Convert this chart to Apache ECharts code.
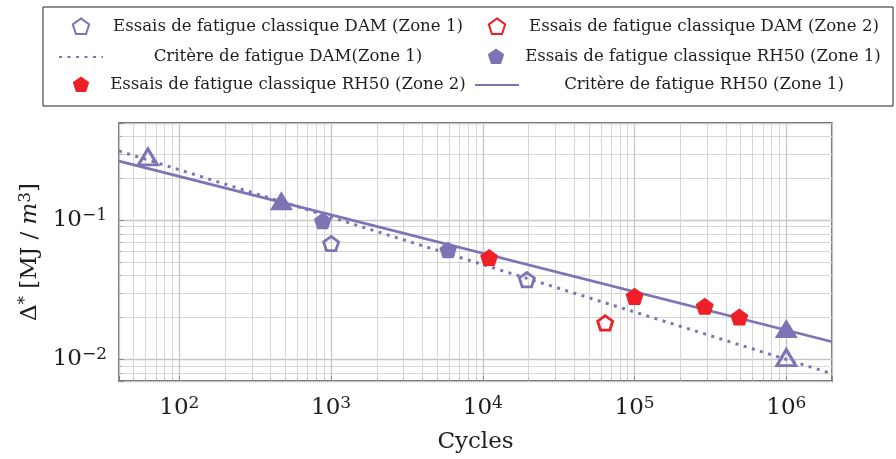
<!DOCTYPE html>
<html>
<head>
<meta charset="utf-8">
<script src="https://cdn.jsdelivr.net/npm/echarts@6/dist/echarts.min.js"></script>
<style>html,body{margin:0;padding:0;background:#fff}#c{width:896px;height:459px}</style>
</head>
<body>
<div id="c"></div>
<script>
// ---- data ----
const seriesNames = [
  'Essais de fatigue classique DAM (Zone 1)',
  'Essais de fatigue classique DAM (Zone 2)',
  'Critère de fatigue DAM(Zone 1)',
  'Essais de fatigue classique RH50 (Zone 1)',
  'Essais de fatigue classique RH50 (Zone 2)',
  'Critère de fatigue RH50 (Zone 1)'
];
const damZone1 = [[1000, 0.068], [19500, 0.0374]];
const damZone2 = [[64000, 0.0183]];
const damCriterion = [[40, 0.315], [2000000, 0.0079]];
const rh50Zone1 = [[880, 0.099], [5900, 0.0613]];
const rh50Zone2 = [[11000, 0.054], [100000, 0.0284], [290000, 0.0241], [490000, 0.0202]];
const rh50Criterion = [[40, 0.266], [2000000, 0.0134]];
const damTriangles = [[62, 0.285], [1000000, 0.0103]];
const rh50Triangles = [[470, 0.138], [1000000, 0.0167]];
const xRange = [40, 2000000];
const yRange = [0.007, 0.5];
const xTitle = 'Cycles';

// ---- styling ----
const FONT = 'DejaVu Serif';
const PURPLE = '#7d74b6';
const RED = '#ee1f26';
const TXT = '#1e1e1e';
const pent = 'path://M0,-1L0.951,-0.309L0.588,0.809L-0.588,0.809L-0.951,-0.309Z';
// legend pentagon padded into a 44x22 box
const pentLegend = 'path://M-22,-11M22,11M0,-8.6L8.2,-2.66L5.06,6.96L-5.06,6.96L-8.2,-2.66Z';
const noSymbol = {color: 'rgba(0,0,0,0)', borderWidth: 0, opacity: 0};

function supLabel(v) {
  const e = Math.round(Math.log10(v));
  if (Math.abs(Math.pow(10, e) - v) / v > 1e-6) return '';
  const s = e < 0 ? '\u2212' + (-e) : String(e);
  return '{b|10}{s|' + s + '}';
}
const labelRich = {
  b: {fontFamily: FONT, fontSize: 23, color: TXT, lineHeight: 26},
  s: {fontFamily: FONT, fontSize: 17, color: TXT, verticalAlign: 'top', lineHeight: 16}
};

const chart = echarts.init(document.getElementById('c'), null, {renderer: 'canvas'});
chart.setOption({
  animation: false,
  backgroundColor: '#fff',
  grid: {left: 119, right: 64, top: 123, bottom: 78, show: true, borderColor: '#2a2a2a', borderWidth: 1.3, backgroundColor: 'transparent'},
  legend: {
    data: [
      {name: seriesNames[0], icon: pentLegend},
      {name: seriesNames[1], icon: pentLegend},
      {name: seriesNames[2], itemStyle: noSymbol},
      {name: seriesNames[3], icon: pentLegend},
      {name: seriesNames[4], icon: pentLegend},
      {name: seriesNames[5], itemStyle: noSymbol}
    ],
    left: 43, top: 7, width: 830, orient: 'horizontal',
    itemWidth: 44, itemHeight: 22, itemGap: 6,
    padding: [8, 9, 10, 15],
    borderColor: '#222', borderWidth: 1,
    selectedMode: false,
    formatter: n => '{t|' + n + '}',
    textStyle: {rich: {t: {width: 360, align: 'center', fontFamily: FONT, fontSize: 16.6, color: TXT, height: 21.5, lineHeight: 21.5}}}
  },
  xAxis: {
    type: 'log', logBase: 10, min: xRange[0], max: xRange[1],
    name: xTitle, nameLocation: 'middle', nameGap: 50,
    nameTextStyle: {fontFamily: FONT, fontSize: 23, color: TXT},
    axisLine: {show: false},
    axisTick: {show: true, inside: true, length: 5, lineStyle: {color: '#888'}},
    minorTick: {show: true, splitNumber: 9, length: 3, lineStyle: {color: '#aaa'}},
    axisLabel: {formatter: supLabel, margin: 14, rich: labelRich, showMinLabel: false, showMaxLabel: false},
    splitLine: {show: true, lineStyle: {color: '#c6c6c6', width: 1.3}},
    minorSplitLine: {show: true, lineStyle: {color: '#d6d6d6', width: 1}}
  },
  yAxis: {
    type: 'log', logBase: 10, min: yRange[0], max: yRange[1],
    name: '{n|\u0394}{s|*}{n| [MJ / }{i|m}{s|3}{n|]}', nameLocation: 'middle', nameGap: 72, nameRotate: 90,
    nameTextStyle: {rich: {
      n: {fontFamily: FONT, fontSize: 23, color: TXT, lineHeight: 26},
      i: {fontFamily: FONT, fontSize: 23, fontStyle: 'italic', color: TXT, lineHeight: 26},
      s: {fontFamily: FONT, fontSize: 17, color: TXT, verticalAlign: 'top', lineHeight: 16}
    }},
    axisLine: {show: false},
    axisTick: {show: true, inside: true, length: 5, lineStyle: {color: '#888'}},
    minorTick: {show: true, splitNumber: 9, length: 3, lineStyle: {color: '#aaa'}},
    axisLabel: {formatter: supLabel, margin: 12, rich: labelRich, showMinLabel: false, showMaxLabel: false},
    splitLine: {show: true, lineStyle: {color: '#c6c6c6', width: 1.3}},
    minorSplitLine: {show: true, lineStyle: {color: '#d6d6d6', width: 1}}
  },
  series: [
    {name: seriesNames[2], type: 'line', data: damCriterion, symbol: 'none', showSymbol: false, color: PURPLE,
     lineStyle: {color: PURPLE, width: 3, type: [3, 5.5]}, z: 2},
    {name: seriesNames[5], type: 'line', data: rh50Criterion, symbol: 'none', showSymbol: false, color: PURPLE,
     lineStyle: {color: PURPLE, width: 2.8}, z: 2},
    {name: 'tri-open', type: 'scatter', data: damTriangles, symbol: 'triangle', symbolSize: [19, 16],
     itemStyle: {color: 'rgba(255,255,255,0)', borderColor: PURPLE, borderWidth: 3, opacity: 1}, z: 3},
    {name: 'tri-filled', type: 'scatter', data: rh50Triangles, symbol: 'triangle', symbolSize: [23, 19],
     itemStyle: {color: PURPLE, borderWidth: 0, opacity: 1}, z: 3},
    {name: seriesNames[0], type: 'scatter', data: damZone1, symbol: pent, symbolSize: [15, 14.3],
     itemStyle: {color: 'rgba(255,255,255,0)', borderColor: PURPLE, borderWidth: 2.8, opacity: 1}, z: 4},
    {name: seriesNames[1], type: 'scatter', data: damZone2, symbol: pent, symbolSize: [15, 14.3],
     itemStyle: {color: 'rgba(255,255,255,0)', borderColor: RED, borderWidth: 2.8, opacity: 1}, z: 4},
    {name: seriesNames[3], type: 'scatter', data: rh50Zone1, symbol: pent, symbolSize: [17.5, 16.6],
     itemStyle: {color: PURPLE, borderWidth: 0, opacity: 1}, z: 4},
    {name: seriesNames[4], type: 'scatter', data: rh50Zone2, symbol: pent, symbolSize: [18, 17.1],
     itemStyle: {color: RED, borderWidth: 0, opacity: 1}, z: 4}
  ]
});
</script>
</body>
</html>
